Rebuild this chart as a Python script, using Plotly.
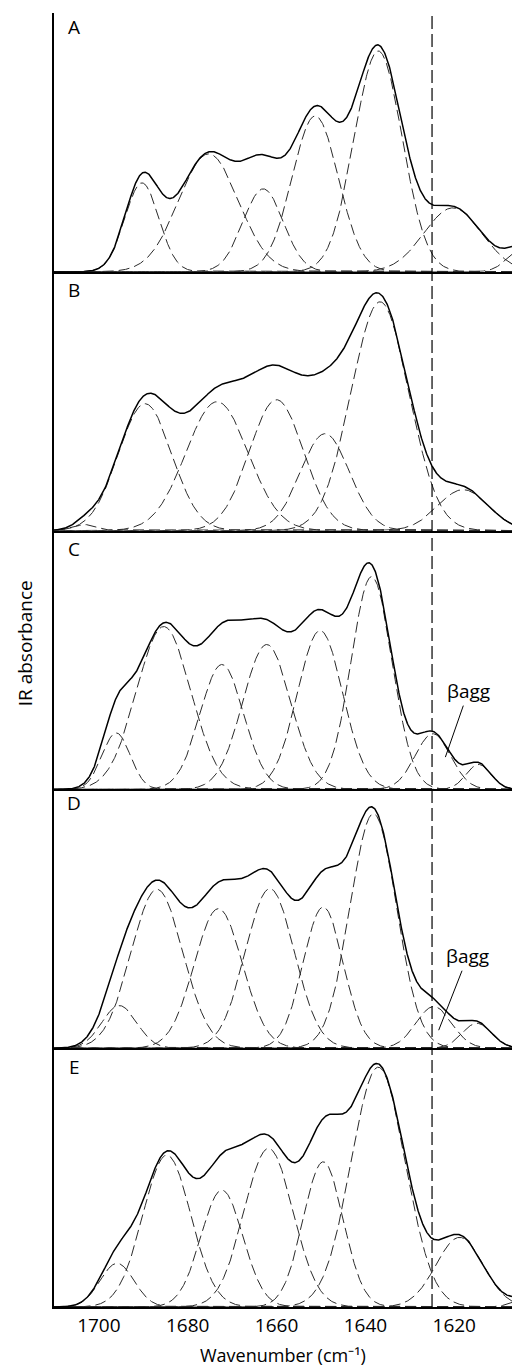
import numpy as np
import plotly.graph_objects as go
from plotly.subplots import make_subplots

# ---------------- data ----------------
panel_labels = ["A", "B", "C", "D", "E"]
x_tick_values = [1700, 1680, 1660, 1640, 1620]
beta_agg_position = 1625          # vertical dashed marker (cm-1)

# Gaussian band components per panel: centre (cm-1), height (a.u.), sigma (cm-1)
A_centres = [1690.3, 1675.3, 1663.0, 1651.3, 1637.1, 1620.3, 1604.2]
A_heights = [89, 118, 83, 156, 221, 64, 24]
A_sigmas = [3.8, 6.7, 4.5, 5.2, 5.4, 6.5, 3.5]

B_centres = [1703.0, 1689.6, 1673.4, 1660.0, 1649.1, 1636.7, 1618.0]
B_heights = [6, 127, 129, 131, 97, 229, 41]
B_sigmas = [2.5, 6.0, 7.0, 6.1, 5.5, 6.5, 5.7]

C_centres = [1696.1, 1685.4, 1672.3, 1662.2, 1650.2, 1638.6, 1624.8, 1614.5]
C_heights = [56.6, 163, 125, 145, 159, 213, 55.7, 25]
C_sigmas = [3.15, 6.1, 4.9, 5.4, 5.1, 4.6, 4.0, 2.8]

D_centres = [1695.4, 1686.9, 1673.1, 1661.5, 1649.5, 1638.2, 1624.6, 1614.9]
D_heights = [42.7, 159, 139.7, 159.7, 141.3, 234.7, 41.7, 25]
D_sigmas = [3.9, 5.8, 5.4, 5.5, 4.5, 5.2, 4.0, 3.3]

E_centres = [1695.9, 1684.7, 1672.3, 1661.8, 1649.5, 1637.1, 1618.8, 1603.5]
E_heights = [43.7, 152, 117, 158.7, 145.3, 240, 69.7, 9]
E_sigmas = [3.8, 5.4, 4.7, 5.5, 4.5, 6.1, 5.3, 3.0]

panels = [
    (A_centres, A_heights, A_sigmas),
    (B_centres, B_heights, B_sigmas),
    (C_centres, C_heights, C_sigmas),
    (D_centres, D_heights, D_sigmas),
    (E_centres, E_heights, E_sigmas),
]

# ---------------- figure ----------------
X_RANGE = [1710.1, 1607.0]
Y_RANGE = [0, 259]
FONT = "Open Sans"
FS = 19
wn = np.linspace(1607.0, 1710.1, 1200)

fig = make_subplots(rows=5, cols=1, shared_xaxes=True, vertical_spacing=0)

for i, (cs, hs, ss) in enumerate(panels, start=1):
    total = np.zeros_like(wn)
    for c, h, s in zip(cs, hs, ss):
        band = h * np.exp(-((wn - c) ** 2) / (2 * s ** 2))
        total += band
        fig.add_trace(go.Scatter(x=wn, y=band, mode="lines",
                                 line=dict(color="#2a2a2a", width=1, dash="11px,5px"),
                                 showlegend=False, hoverinfo="skip"), row=i, col=1)
    fig.add_trace(go.Scatter(x=wn, y=total, mode="lines",
                             line=dict(color="black", width=1.5),
                             showlegend=False, hoverinfo="skip"), row=i, col=1)

for i in range(1, 6):
    fig.update_xaxes(range=X_RANGE, showgrid=False, zeroline=False, showline=True,
                     linecolor="black", linewidth=1.5, ticks="",
                     tickvals=x_tick_values, row=i, col=1)
    fig.update_yaxes(range=Y_RANGE, showgrid=False, zeroline=False, showline=True,
                     linecolor="black", linewidth=1.5, ticks="", showticklabels=False,
                     row=i, col=1)

fig.update_xaxes(showticklabels=True, ticks="",
                 tickfont=dict(family=FONT, size=FS, color="black"),
                 row=5, col=1)

# x-axis title
fig.add_annotation(xref="paper", yref="paper", x=0.5, y=-0.0371,
                   text="Wavenumber (cm⁻¹)", showarrow=False,
                   xanchor="center", yanchor="middle",
                   font=dict(family=FONT, size=18, color="black"))

# vertical dashed marker line across all panels
fig.add_shape(type="line", xref="x5", yref="paper", x0=beta_agg_position,
              x1=beta_agg_position, y0=0, y1=1,
              line=dict(color="black", width=1.2, dash="13px,5px"))

# panel letters
letter_y = [0.946, 0.93, 0.929, 0.947, 0.927]
for i, (lab, ly) in enumerate(zip(panel_labels, letter_y), start=1):
    sfx = "" if i == 1 else str(i)
    fig.add_annotation(xref=f"x{sfx} domain", yref=f"y{sfx} domain", x=0.044, y=ly,
                       text=lab, showarrow=False, xanchor="center", yanchor="middle",
                       font=dict(family=FONT, size=FS, color="black"))

# βagg labels
fig.add_annotation(xref="x3", yref="y3", x=1622.0, y=32.3, ax=23, ay=-66,
                   text="βagg", showarrow=True, arrowhead=0, arrowwidth=1,
                   arrowcolor="black", font=dict(family=FONT, size=FS, color="black"))
fig.add_annotation(xref="x4", yref="y4", x=1623.5, y=18, ax=29, ay=-74,
                   text="βagg", showarrow=True, arrowhead=0, arrowwidth=1,
                   arrowcolor="black", font=dict(family=FONT, size=FS, color="black"))

# y-axis title
fig.add_annotation(xref="paper", yref="paper", x=-0.063, y=0.513, text="IR absorbance",
                   textangle=-90, showarrow=False, xanchor="center", yanchor="middle",
                   font=dict(family=FONT, size=FS, color="black"))

fig.update_layout(width=512, height=1368, margin=dict(l=54, r=0, t=13, b=61),
                  paper_bgcolor="white", plot_bgcolor="white",
                  font=dict(family=FONT, size=FS, color="black"))

fig.write_html("out.html")
